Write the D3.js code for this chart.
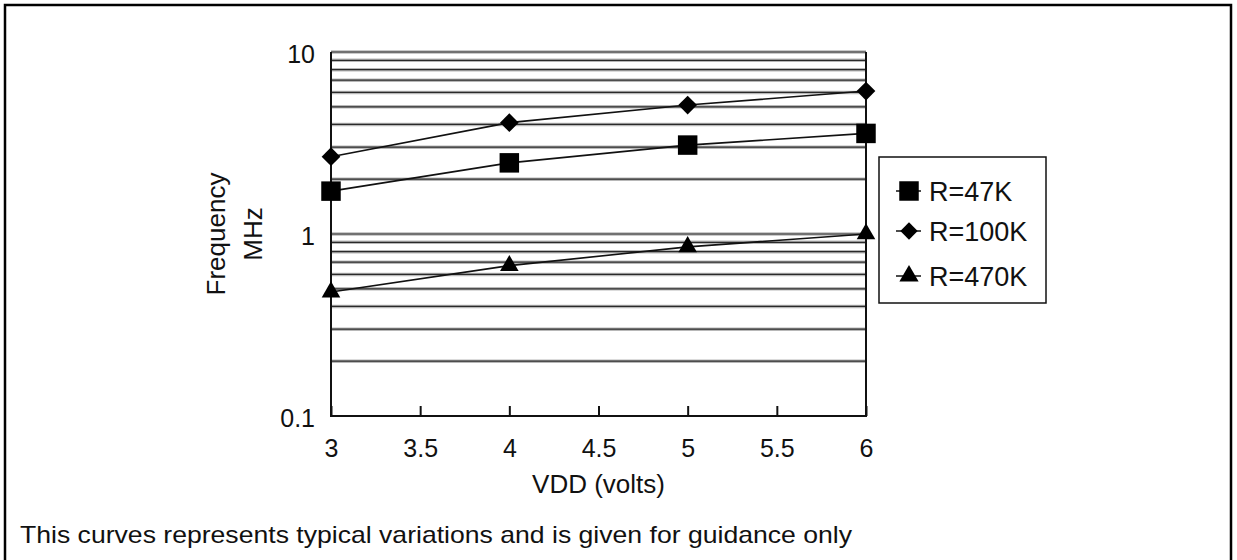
<!DOCTYPE html>
<html>
<head>
<meta charset="utf-8">
<script src="https://cdn.jsdelivr.net/npm/d3@7"></script>
<style>
    body { margin: 0; background: #fff; }
    text { font-family: Arial, "Liberation Sans", sans-serif; fill: #111; }
</style>
</head>
<body>
<svg id="canvas" width="1237" height="560"></svg>
<script>
// chart data
var vdd = [3, 4, 5, 6]
var freq47k = [1.72, 2.46, 3.08, 3.57]
var freq100k = [2.66, 4.09, 5.11, 6.1]
var freq470k = [0.48, 0.67, 0.85, 1.0]
var seriesNames = ["R=47K", "R=100K", "R=470K"]
var xTicks = [3, 3.5, 4, 4.5, 5, 5.5, 6]
var yLabels = [0.1, 1, 10]
var caption = "This curves represents typical variations and is given for guidance only"

var svg = d3.select("#canvas")

// outer frame (bottom edge runs off the page)
svg.append("rect")
    .attr("x", 5).attr("y", 5)
    .attr("width", 1226).attr("height", 600)
    .attr("fill", "none")
    .attr("stroke", "#000")
    .attr("stroke-width", 2.5)

var plotLeft = 331, plotRight = 866, plotTop = 52, plotBottom = 416

var xScale = d3.scaleLinear().domain([3, 6]).range([plotLeft, plotRight])
var yScale = d3.scaleLog().domain([0.1, 10]).range([plotBottom, plotTop])

// horizontal grid, every 1..9 inside both decades
var gridValues = []
for(var d=0.1; d<5; d*=10)
{
    for(var k=2; k<=10; k++)
    {
        gridValues.push(+(d*k).toFixed(2))
    }
}

var grid = svg.append("g")
grid.selectAll("line.halo")
    .data(gridValues)
    .enter()
        .append("line")
        .attr("class", "halo")
        .attr("x1", plotLeft).attr("x2", plotRight)
        .attr("y1", function(v){ return yScale(v) })
        .attr("y2", function(v){ return yScale(v) })
        .attr("stroke", "#b8b8b8")
        .attr("stroke-width", 3.5)
grid.selectAll("line.core")
    .data(gridValues)
    .enter()
        .append("line")
        .attr("class", "core")
        .attr("x1", plotLeft).attr("x2", plotRight)
        .attr("y1", function(v){ return yScale(v) })
        .attr("y2", function(v){ return yScale(v) })
        .attr("stroke", "#2a2a2a")
        .attr("stroke-width", 1.2)

// plot frame
svg.append("path")
    .attr("d", "M" + plotLeft + "," + plotTop + "V" + plotBottom + "H" + plotRight + "V" + plotTop)
    .attr("fill", "none")
    .attr("stroke", "#111")
    .attr("stroke-width", 2)

// x axis: inward ticks, labels below
var xAxis = d3.axisBottom(xScale)
    .tickValues(xTicks)
    .tickSizeInner(-10)
    .tickSizeOuter(0)
    .tickFormat(d3.format("~g"))

var gx = svg.append("g")
    .attr("transform", "translate(0," + plotBottom + ")")
    .call(xAxis)
gx.select(".domain").remove()
gx.selectAll(".tick line").attr("stroke", "#111").attr("stroke-width", 2)
gx.selectAll(".tick text")
    .attr("font-size", 25)
    .attr("font-family", "Arial, 'Liberation Sans', sans-serif")
    .attr("fill", "#111")
    .attr("dy", 0)
    .attr("y", 41)

// y axis labels only (decades)
var yAxis = d3.axisLeft(yScale)
    .tickValues(yLabels)
    .tickSize(0)
    .tickPadding(16)
    .tickFormat(d3.format("~g"))

var gy = svg.append("g")
    .attr("transform", "translate(" + plotLeft + ",0)")
    .call(yAxis)
gy.select(".domain").remove()
gy.selectAll(".tick text")
    .attr("font-size", 25)
    .attr("font-family", "Arial, 'Liberation Sans', sans-serif")
    .attr("fill", "#111")
    .attr("dy", "0.42em")

// axis titles
svg.append("text")
    .attr("x", (plotLeft + plotRight)/2)
    .attr("y", 493)
    .attr("text-anchor", "middle")
    .attr("font-size", 26)
    .text("VDD (volts)")

var yTitle = svg.append("g")
    .attr("transform", "translate(225,234) rotate(-90)")
yTitle.append("text")
    .attr("text-anchor", "middle")
    .attr("font-size", 26)
    .text("Frequency")
yTitle.append("text")
    .attr("y", 37)
    .attr("text-anchor", "middle")
    .attr("font-size", 26)
    .text("MHz")

// series (diamond = square turned by 45 degrees, like the datasheet)
var series = [
    {name: seriesNames[0], values: freq47k, symbol: d3.symbolSquare, size: 380, turn: 0},
    {name: seriesNames[1], values: freq100k, symbol: d3.symbolSquare, size: 175, turn: 45},
    {name: seriesNames[2], values: freq470k, symbol: d3.symbolTriangle, size: 150, turn: 0}
]

var line = d3.line()
    .x(function(d){ return xScale(d.x) })
    .y(function(d){ return yScale(d.y) })

series.forEach(function(s)
{
    var pts = vdd.map(function(v, i){ return {x: v, y: s.values[i]} })
    svg.append("path")
        .datum(pts)
        .attr("d", line)
        .attr("fill", "none")
        .attr("stroke", "#111")
        .attr("stroke-width", 1.6)

    svg.append("g")
        .selectAll("path")
        .data(pts)
        .enter()
            .append("path")
            .attr("transform", function(d){ return "translate(" + xScale(d.x) + "," + yScale(d.y) + ") rotate(" + s.turn + ")" })
            .attr("d", d3.symbol().type(s.symbol).size(s.size))
            .attr("fill", "#000")
})

// legend
var legend = svg.append("g").attr("transform", "translate(879,157)")
legend.append("rect")
    .attr("width", 167).attr("height", 146)
    .attr("fill", "#fff")
    .attr("stroke", "#111")
    .attr("stroke-width", 1.5)

var legendSizes = [380, 150, 160]
var legendY = [34, 74, 119]
series.forEach(function(s, i)
{
    var row = legend.append("g").attr("transform", "translate(0," + legendY[i] + ")")
    row.append("line")
        .attr("x1", 17).attr("x2", 42)
        .attr("stroke", "#111").attr("stroke-width", 1.5)
    row.append("path")
        .attr("transform", "translate(30,0) rotate(" + s.turn + ")")
        .attr("d", d3.symbol().type(s.symbol).size(legendSizes[i]))
        .attr("fill", "#000")
    row.append("text")
        .attr("x", 50)
        .attr("dy", "0.36em")
        .attr("font-size", 27)
        .text(s.name)
})

// footnote
svg.append("text")
    .attr("x", 20)
    .attr("y", 543)
    .attr("font-size", 24)
    .attr("textLength", 832)
    .attr("lengthAdjust", "spacingAndGlyphs")
    .text(caption)
</script>
</body>
</html>
